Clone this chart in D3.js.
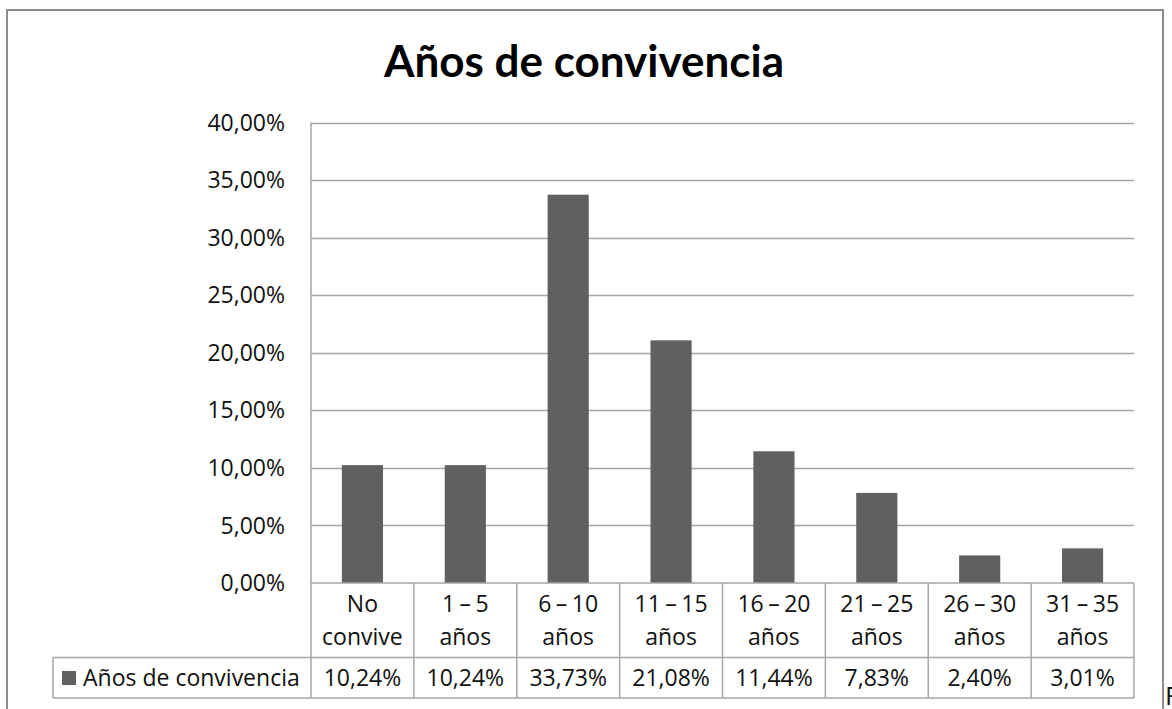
<!DOCTYPE html>
<html>
<head>
<meta charset="utf-8">
<script src="https://cdn.jsdelivr.net/npm/d3@7"></script>
<style>
  html, body { margin: 0; padding: 0; background: #fff; }
  svg { display: block; }
  text { font-family: "Open Sans", Lato, sans-serif; fill: #111; }
  text.title { font-family: Lato, "Open Sans", sans-serif; font-weight: bold; fill: #000; }
</style>
</head>
<body>
<svg id="chart" width="1172" height="709"></svg>
<script>
// ---- data ----
const title = "Años de convivencia";
const seriesName = "Años de convivencia";
const categories = [
  ["No", "convive"],
  ["1 – 5", "años"],
  ["6 – 10", "años"],
  ["11 – 15", "años"],
  ["16 – 20", "años"],
  ["21 – 25", "años"],
  ["26 – 30", "años"],
  ["31 – 35", "años"]
];
const values = [10.24, 10.24, 33.73, 21.08, 11.44, 7.83, 2.40, 3.01];
const yTicks = [0, 5, 10, 15, 20, 25, 30, 35, 40];

// ---- layout ----
const svg = d3.select("#chart");
const plot = { left: 311, right: 1134, top: 122.5, bottom: 583 };
const row1Bottom = 657.5, row2Bottom = 698;
const legendLeft = 53;
const gridColor = "#a6a6a6";
const barColor = "#606060";
const fs = 23;
const fmt = v => v.toFixed(2).replace(".", ",") + "%";

// outer border
svg.append("rect").attr("x", 7).attr("y", 10).attr("width", 1156).attr("height", 720)
  .attr("fill", "none").attr("stroke", "#8c8c8c").attr("stroke-width", 2);

const x = d3.scaleBand().domain(d3.range(categories.length))
  .range([plot.left, plot.right]).paddingInner(0).paddingOuter(0);
const y = d3.scaleLinear().domain([0, 40]).range([plot.bottom, plot.top]);

// gridlines
svg.append("g").selectAll("line").data(yTicks.filter(t => t > 0)).join("line")
  .attr("x1", plot.left).attr("x2", plot.right)
  .attr("y1", d => Math.round(y(d)) + 0.5).attr("y2", d => Math.round(y(d)) + 0.5)
  .attr("stroke", gridColor).attr("stroke-width", 1.5);

// y axis labels
const yAxis = d3.axisLeft(y).tickValues(yTicks).tickFormat(d => fmt(d)).tickSize(0).tickPadding(26);
const ya = svg.append("g").attr("transform", `translate(${plot.left},0)`).call(yAxis);
ya.select(".domain").remove();
ya.selectAll("text").attr("font-size", fs).attr("font-family", null).attr("fill", "#111")
  .attr("dy", "0.33em");

// bars
const bw = x.bandwidth() * 0.4;
svg.append("g").selectAll("rect").data(values).join("rect")
  .attr("x", (d, i) => x(i) + (x.bandwidth() - bw) / 2)
  .attr("width", bw)
  .attr("y", d => y(d))
  .attr("height", d => y(0) - y(d))
  .attr("fill", barColor);

// table
const tg = svg.append("g").attr("stroke", gridColor).attr("stroke-width", 1.5).attr("fill", "none");
tg.append("line").attr("x1", plot.left).attr("x2", plot.right).attr("y1", plot.bottom).attr("y2", plot.bottom);
tg.append("line").attr("x1", legendLeft).attr("x2", plot.right).attr("y1", row1Bottom).attr("y2", row1Bottom);
tg.append("line").attr("x1", legendLeft).attr("x2", plot.right).attr("y1", row2Bottom).attr("y2", row2Bottom);
tg.append("line").attr("x1", plot.left).attr("x2", plot.left).attr("y1", plot.top).attr("y2", row2Bottom);
tg.append("line").attr("x1", legendLeft).attr("x2", legendLeft).attr("y1", row1Bottom).attr("y2", row2Bottom);
tg.selectAll("line.sep").data(d3.range(1, categories.length + 1)).join("line").attr("class", "sep")
  .attr("x1", i => x(i) === undefined ? plot.right : x(i))
  .attr("x2", i => x(i) === undefined ? plot.right : x(i))
  .attr("y1", plot.bottom).attr("y2", row2Bottom);

// category labels
const cg = svg.append("g");
categories.forEach((c, i) => {
  const cx = x(i) + x.bandwidth() / 2;
  cg.append("text").attr("x", cx).attr("y", 612).attr("text-anchor", "middle").attr("font-size", fs)
    .attr("word-spacing", -1.5).text(c[0]);
  cg.append("text").attr("x", cx).attr("y", 645).attr("text-anchor", "middle").attr("font-size", fs).text(c[1]);
});

// values row
svg.append("g").selectAll("text").data(values).join("text")
  .attr("x", (d, i) => x(i) + x.bandwidth() / 2).attr("y", 686)
  .attr("text-anchor", "middle").attr("font-size", fs).text(d => fmt(d));

// legend
svg.append("rect").attr("x", 62).attr("y", 671).attr("width", 14).attr("height", 14).attr("fill", barColor);
svg.append("text").attr("x", 83).attr("y", 686).attr("font-size", fs).text(seriesName);

// title
svg.append("text").attr("class", "title").attr("x", 584).attr("y", 77).attr("text-anchor", "middle")
  .attr("font-size", 44).text(title);

// stray fragment at right edge
svg.append("text").attr("x", 1165).attr("y", 705).attr("font-size", 26).text("F");
</script>
</body>
</html>
